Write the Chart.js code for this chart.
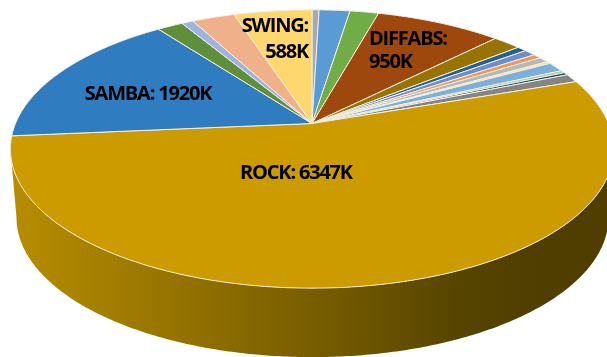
<!DOCTYPE html>
<html>
<head>
<meta charset="utf-8">
<title>Genres</title>
<style>
  html, body { margin: 0; padding: 0; background: #fff; overflow: hidden; }
  canvas { display: block; }
</style>
<script src="https://cdn.jsdelivr.net/npm/chart.js@4"></script>
</head>
<body>
<canvas id="pie" width="607" height="357"></canvas>
<script>
// clockwise from 12 o'clock, values in thousands
const genres = ['', '', '', 'DIFFABS', '', '', '', '', '', '', '', '', '', '', 'ROCK', 'SAMBA', '', '', '', 'SWING'];
const counts = [53, 232, 216, 950, 212, 72, 87, 62, 77, 30, 134, 36, 36, 116, 6347, 1920, 195, 87, 322, 588];
const sliceColors = [
    '#A9A9A9', '#5B9BD5', '#70AD47', '#9E480E', '#997300', '#255E91', '#698ED0', '#F1975A',
    '#B7B7B7', '#FFE08A', '#7CAFDD', '#A9D18E', '#264478', '#848484', '#CB9B00', '#2F7DC0',
    '#5F8F3A', '#9DB3E3', '#EFB08A', '#FFD76F'
];

// perspective of the disc: apex on screen, half width through it, foreshortening
const view = { x: 312, y: 123.5, a: 296.5, b: 134.5, k: 0.183 };
const wall = { x: 312.5, y: 192, a: 291, b: 134.9, k: 0.183 };
const edgeColor = '#F1EEE2';

const labelSpots = {
    ROCK: { x: 296, y: 173, align: 'center' },
    SAMBA: { x: 148, y: 94, align: 'center' },
    SWING: { x: 308, y: 26, lineGap: 26, align: 'right' },
    DIFFABS: { x: 369, y: 39, lineGap: 23, align: 'left' }
};

function project(p, angle) {
    const u = Math.cos(angle), v = Math.sin(angle);
    const w = 1 - p.k * v;
    return [p.x + p.a * u / w, p.y + p.b * v / w];
}

function traceRim(ctx, p, from, to, lineFirst) {
    const steps = Math.max(2, Math.ceil(Math.abs(to - from) / 0.01));
    for (let i = 0; i <= steps; i++) {
        const pt = project(p, from + (to - from) * i / steps);
        if (i === 0 && !lineFirst) ctx.moveTo(pt[0], pt[1]);
        else ctx.lineTo(pt[0], pt[1]);
    }
}

function drawWall(ctx) {
    const side = Math.asin(view.k);
    const grad = ctx.createLinearGradient(15, 0, 540, 0);
    grad.addColorStop(0, '#B68C00');
    grad.addColorStop(0.3, '#967400');
    grad.addColorStop(0.55, '#7A5F00');
    grad.addColorStop(0.85, '#564400');
    grad.addColorStop(1, '#4F3E00');
    ctx.beginPath();
    traceRim(ctx, wall, side, Math.PI - side, false);
    traceRim(ctx, view, Math.PI - side, side, true);
    ctx.closePath();
    ctx.fillStyle = grad;
    ctx.fill();
}

function drawSlice(ctx, arc, color) {
    ctx.beginPath();
    ctx.moveTo(view.x, view.y);
    traceRim(ctx, view, arc.startAngle, arc.endAngle, true);
    ctx.closePath();
    ctx.fillStyle = color;
    ctx.fill();
    ctx.strokeStyle = edgeColor;
    ctx.lineWidth = 1;
    ctx.stroke();
}

function drawLabels(ctx) {
    ctx.fillStyle = '#000';
    ctx.textBaseline = 'middle';
    ctx.font = '700 20px "Open Sans"';
    ctx.letterSpacing = '-1.2px';
    genres.forEach((name, i) => {
        const spot = labelSpots[name];
        if (!spot) return;
        ctx.textAlign = spot.align;
        if (spot.lineGap) {
            ctx.fillText(name + ':', spot.x, spot.y);
            ctx.fillText(counts[i] + 'K', spot.x, spot.y + spot.lineGap);
        } else {
            ctx.fillText(name + ': ' + counts[i] + 'K', spot.x, spot.y);
        }
    });
}

// the library lays out the angles, this plugin paints them tilted
const tiltedPie = {
    id: 'tiltedPie',
    beforeDatasetsDraw(chart) {
        const ctx = chart.ctx;
        const arcs = chart.getDatasetMeta(0).data;
        ctx.save();
        drawWall(ctx);
        arcs.forEach((arc, i) => drawSlice(ctx, arc, sliceColors[i]));
        drawLabels(ctx);
        ctx.restore();
        return false;
    }
};

new Chart(document.getElementById('pie'), {
    type: 'pie',
    data: {
        labels: genres,
        datasets: [{ data: counts, backgroundColor: sliceColors }]
    },
    options: {
        responsive: false,
        animation: false,
        plugins: {
            legend: { display: false },
            tooltip: { enabled: false }
        }
    },
    plugins: [tiltedPie]
});
</script>
</body>
</html>
